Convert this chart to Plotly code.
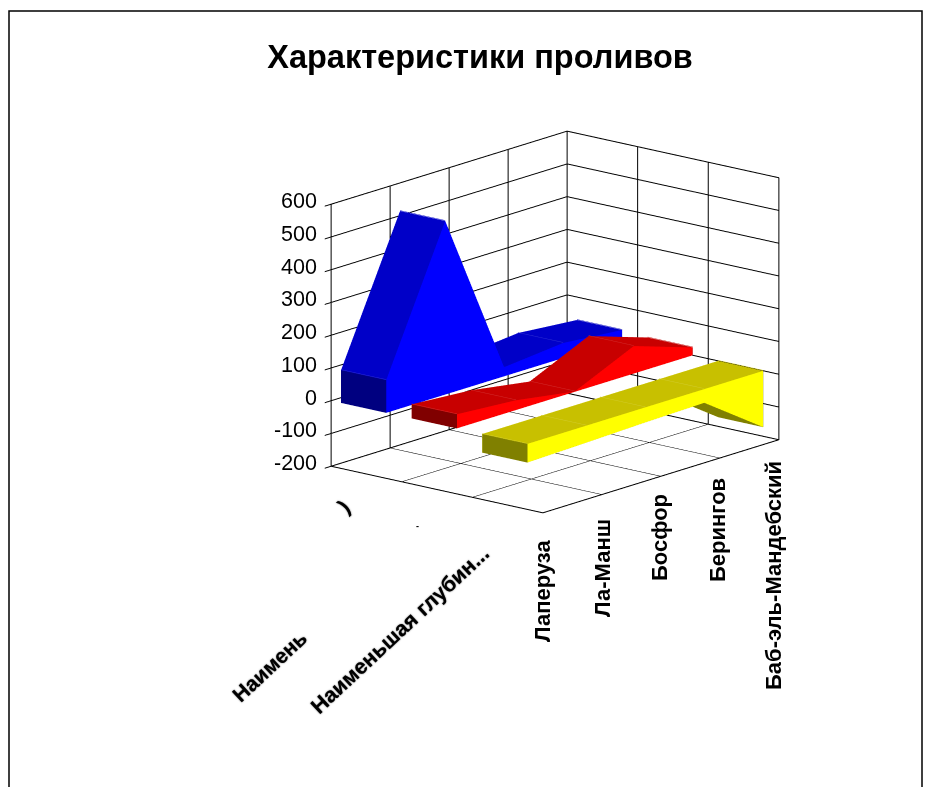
import plotly.graph_objects as go

W, H = 931, 787
FONT = "Liberation Sans"

# Chart data: three area series over five straits
straits = ["Лаперуза", "Ла-Манш", "Босфор", "Берингов", "Баб-эль-Мандебский"]
length_km = [100, 530, 28, 46, 30]
width_km = [43, 30, 1, 84, 24]
depth_m = [-57, -52, -46, -42, -172]

series_values = [length_km, width_km, depth_m]
series_colors = [
    dict(side="#0000ff", top="#0000c8", under="#000080", cap="#000080", seam="#2a2ad2"),
    dict(side="#ff0000", top="#c80000", under="#800000", cap="#800000", seam="#d22a2a"),
    dict(side="#ffff00", top="#c8c000", under="#808000", cap="#808000", seam="#d2cb2a"),
]

value_ticks = [-200, -100, 0, 100, 200, 300, 400, 500, 600]
depth_positions = [0, 1, 2, 3]
strait_positions = [0, 1, 2, 3, 4]
BAND = (0.14, 0.78)
SEAM_LIFT = 1.5  # keeps seam lines just above the surface they run along

# Clipped category captions on the series axis
series_captions = ["Наимень", "Наименьшая глубин..."]


def ribbon(index, values, colors):
    """Build a 3D area band between the zero plane and the value line."""
    x0, x1 = index + BAND[0], index + BAND[1]
    xs, ys, zs = [], [], []
    for y, v in zip(strait_positions, values):
        for px, pz in ((x0, 0), (x1, 0), (x0, v), (x1, v)):
            xs.append(px)
            ys.append(y)
            zs.append(pz)
    i, j, k, fc = [], [], [], []

    def quad(a, b, c, d, color):
        i.extend([a, a])
        j.extend([b, c])
        k.extend([c, d])
        fc.extend([color, color])

    negative = values[0] < 0
    for n in range(len(values) - 1):
        p, q = 4 * n, 4 * (n + 1)
        value_face = colors["under"] if negative else colors["top"]
        zero_face = colors["top"] if negative else colors["under"]
        quad(p + 2, p + 3, q + 3, q + 2, value_face)
        quad(p + 0, p + 1, q + 1, q + 0, zero_face)
        quad(p + 1, p + 3, q + 3, q + 1, colors["side"])
        quad(p + 0, p + 2, q + 2, q + 0, colors["side"])
    quad(0, 1, 3, 2, colors["cap"])
    e = 4 * (len(values) - 1)
    quad(e + 0, e + 1, e + 3, e + 2, colors["cap"])
    return go.Mesh3d(
        x=xs, y=ys, z=zs, i=i, j=j, k=k, facecolor=fc, flatshading=True,
        lighting=dict(ambient=1, diffuse=0, specular=0, roughness=1, fresnel=0),
        hoverinfo="skip", showscale=False,
    )


def ribbon_seams(index, values, colors):
    """Faint seams across a band's upper surface, one per strait."""
    x0, x1 = index + BAND[0], index + BAND[1]
    xs, ys, zs = [], [], []
    for y, v in zip(strait_positions, values):
        top = max(v, 0) + SEAM_LIFT
        xs += [x0, x1, None]
        ys += [y, y, None]
        zs += [top, top, None]
    return go.Scatter3d(x=xs, y=ys, z=zs, mode="lines", hoverinfo="skip",
                        line=dict(color=colors["seam"], width=1))


def box_edges():
    """Outline of the floor and of the two back walls."""
    x_lo, x_hi = depth_positions[0], 3
    y_lo, y_hi = strait_positions[0], strait_positions[-1]
    z_lo, z_hi = value_ticks[0], value_ticks[-1]
    path = [
        (x_lo, y_lo, z_hi), (x_lo, y_lo, z_lo), (x_hi, y_lo, z_lo), (x_hi, y_hi, z_lo),
        (x_hi, y_hi, z_hi), (x_lo, y_hi, z_hi), (x_lo, y_lo, z_hi), None,
        (x_lo, y_lo, z_lo), (x_lo, y_hi, z_lo), (x_hi, y_hi, z_lo), None,
        (x_lo, y_hi, z_lo), (x_lo, y_hi, z_hi),
    ]
    xs = [p[0] if p else None for p in path]
    ys = [p[1] if p else None for p in path]
    zs = [p[2] if p else None for p in path]
    return go.Scatter3d(x=xs, y=ys, z=zs, mode="lines",
                        line=dict(color="#000000", width=2), hoverinfo="skip")


fig = go.Figure()
fig.add_trace(box_edges())
for idx, (vals, cols) in enumerate(zip(series_values, series_colors)):
    fig.add_trace(ribbon(idx, vals, cols))
    fig.add_trace(ribbon_seams(idx, vals, cols))


def paper(px, py):
    return px / W, 1 - py / H


def label(px, py, text, size, angle=0, soft=False):
    x, y = paper(px, py)
    font = dict(family=FONT, size=size, color="#000000", weight=700)
    if soft:
        font["shadow"] = "0 0 1.5px rgba(0,0,0,0.8)"
    fig.add_annotation(
        x=x, y=y, xref="paper", yref="paper", text=text, showarrow=False,
        textangle=angle, xanchor="center", yanchor="middle", font=font,
    )


strait_label_pos = [(542, 591), (602, 568), (659, 538), (717, 530), (773, 576)]
for name, (px, py) in zip(straits, strait_label_pos):
    label(px, py, name, 22, -90)

label(269, 666, series_captions[0], 21, -43, soft=True)
label(400, 630, series_captions[1], 21.5, -43, soft=True)
label(343, 506, ")", 21, -43, soft=True)
label(417, 526, "-", 9)

# Value labels stay attached to the vertical axis edge of the scene
value_labels = [
    dict(x=0, y=0, z=v, text=str(v), showarrow=False, xanchor="right", yanchor="middle",
         xshift=-12, yshift=3, font=dict(family=FONT, size=21.5, color="#000000"))
    for v in value_ticks
]

axis_common = dict(
    showbackground=False, showspikes=False, title=dict(text=""),
    gridcolor="#000000", gridwidth=2, zeroline=False, showline=False,
)
fig.update_layout(
    width=W, height=H, margin=dict(l=0, r=0, t=0, b=0),
    paper_bgcolor="#ffffff", showlegend=False,
    title=dict(text="Характеристики проливов", x=480 / W, y=1 - 57 / H,
               xanchor="center", yanchor="middle",
               font=dict(family=FONT, size=32.5, color="#000000", weight=700)),
    scene=dict(
        domain=dict(x=[0.192, 1], y=[0.182, 1]),
        annotations=value_labels,
        xaxis=dict(range=[0, 3], tickvals=depth_positions, showticklabels=False,
                   ticks="", **axis_common),
        yaxis=dict(range=[0, 4], tickvals=strait_positions, showticklabels=False,
                   ticks="", **axis_common),
        zaxis=dict(range=[value_ticks[0], value_ticks[-1]], tickvals=value_ticks,
                   ticks="outside", ticklen=10, tickwidth=2, tickcolor="#000000",
                   showticklabels=True, tickfont=dict(size=1, color="rgba(0,0,0,0)"),
                   **axis_common),
        aspectmode="manual",
        aspectratio=dict(x=0.860, y=1.137, z=0.843),
        camera=dict(
            eye=dict(x=0.622 * 2.87, y=-0.738 * 2.87, z=0.261 * 2.87),
            up=dict(x=0, y=0, z=1), center=dict(x=0, y=0, z=0),
            projection=dict(type="orthographic"),
        ),
    ),
    shapes=[dict(type="rect", xref="paper", yref="paper", x0=9 / W, x1=922 / W,
                 y0=-0.05, y1=1 - 11 / H, line=dict(color="#000000", width=1.5))],
)

fig.write_html("out.html")
